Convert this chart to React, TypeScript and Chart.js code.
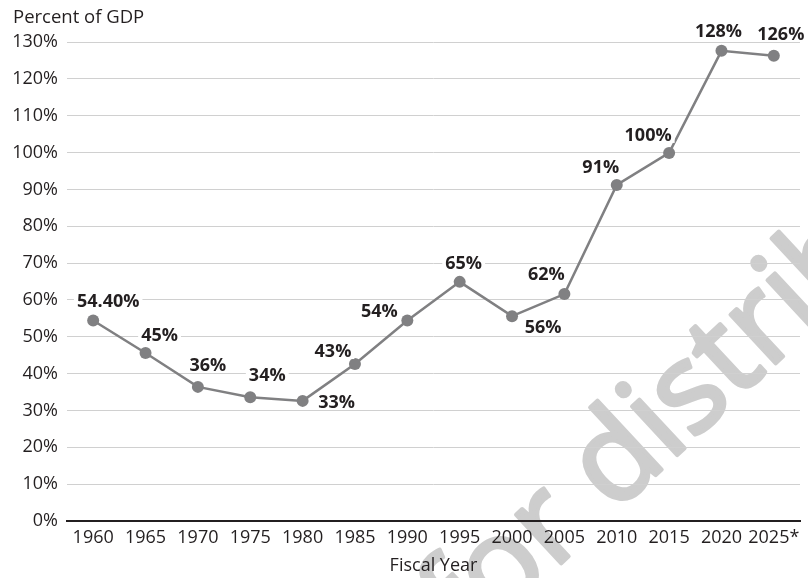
import React, { useEffect, useRef } from "react";
import { Chart, registerables } from "chart.js";

Chart.register(...registerables);

const years = ["1960", "1965", "1970", "1975", "1980", "1985", "1990", "1995", "2000", "2005", "2010", "2015", "2020", "2025*"];
const debtPct = [54.4, 45.6, 36.4, 33.6, 32.6, 42.6, 54.4, 64.9, 55.6, 61.6, 91.2, 99.9, 127.6, 126.3];
const valueLabels = ["54.40%", "45%", "36%", "34%", "33%", "43%", "54%", "65%", "56%", "62%", "91%", "100%", "128%", "126%"];
const yTicks = [0, 10, 20, 30, 40, 50, 60, 70, 80, 90, 100, 110, 120, 130];

// label offset from its point (px), layout only
const labelOffsets: [number, number][] = [
  [15, -20], [14, -18], [10, -22], [17, -22], [34, 1], [-22, -13], [-28, -10],
  [4, -19], [31, 11], [-18, -20], [-16, -18], [-21, -18], [-3, -20], [7, -22],
];

const FONT = '"Open Sans", "DejaVu Sans", sans-serif';

const watermarkPlugin = {
  id: "watermark",
  beforeDraw(chart: any) {
    const ctx = chart.ctx;
    ctx.save();
    ctx.fillStyle = "#ffffff";
    ctx.fillRect(0, 0, chart.width, chart.height);
    const ang = (-43 * Math.PI) / 180;
    ctx.font = `normal 124px ${FONT}`;
    const pre = ctx.measureText("Not for ").width;
    ctx.translate(614, 514);
    ctx.rotate(ang);
    ctx.fillStyle = "#cdcdcd";
    ctx.strokeStyle = "#cdcdcd";
    ctx.lineWidth = 4;
    ctx.lineJoin = "round";
    ctx.textBaseline = "alphabetic";
    ctx.textAlign = "left";
    ctx.fillText("Not for distribution", -pre, 0);
    ctx.strokeText("Not for distribution", -pre, 0);
    ctx.restore();
  },
};

const titlePlugin = {
  id: "yTitle",
  afterDraw(chart: any) {
    const ctx = chart.ctx;
    ctx.save();
    ctx.font = `18.5px ${FONT}`;
    ctx.fillStyle = "#231f20";
    ctx.textBaseline = "alphabetic";
    ctx.textAlign = "left";
    ctx.fillText("Percent of GDP", 13, 23);
    ctx.restore();
  },
};

const labelPlugin = {
  id: "valueLabels",
  afterDatasetsDraw(chart: any) {
    const ctx = chart.ctx;
    const meta = chart.getDatasetMeta(0);
    ctx.save();
    ctx.font = `bold 18px ${FONT}`;
    ctx.textAlign = "center";
    ctx.textBaseline = "middle";
    meta.data.forEach((pt: any, i: number) => {
      const [dx, dy] = labelOffsets[i];
      const x = pt.x + dx;
      const y = pt.y + dy;
      const t = valueLabels[i];
      const w = ctx.measureText(t).width;
      ctx.fillStyle = "#ffffff";
      ctx.fillRect(x - w / 2 - 3, y - 8, w + 6, 16);
      ctx.fillStyle = "#231f20";
      ctx.fillText(t, x, y + 1);
    });
    ctx.restore();
  },
};

export default function App() {
  const ref = useRef<HTMLCanvasElement | null>(null);
  useEffect(() => {
    if (!ref.current) return;
    const chart = new Chart(ref.current, {
      type: "line",
      data: {
        labels: years,
        datasets: [
          {
            data: debtPct,
            borderColor: "#808082",
            backgroundColor: "#808082",
            borderWidth: 2.5,
            pointRadius: 6,
            pointHoverRadius: 6,
            pointBackgroundColor: "#808082",
            pointBorderWidth: 0,
            tension: 0,
            clip: false as any,
          },
        ],
      },
      options: {
        animation: false,
        responsive: true,
        maintainAspectRatio: false,
        layout: { padding: { left: 14, right: 8, top: 42, bottom: 0 } },
        plugins: { legend: { display: false }, tooltip: { enabled: false }, title: { display: false } },
        scales: {
          x: {
            offset: true,
            grid: { display: false, drawTicks: false },
            border: { display: true, color: "#231f20", width: 2 },
            ticks: { color: "#231f20", font: { family: FONT, size: 18 }, padding: 6, maxRotation: 0, autoSkip: false },
            title: { display: true, text: "Fiscal Year", color: "#231f20", font: { family: FONT, size: 18 }, padding: { top: 0, bottom: 1 } },
            afterFit(scale: any) {
              scale.height = 57;
            },
          },
          y: {
            min: 0,
            max: 130,
            afterBuildTicks(scale: any) {
              scale.ticks = yTicks.map((v) => ({ value: v }));
            },
            grid: { color: "#d0d0d0", lineWidth: 1, drawTicks: false },
            border: { display: false },
            ticks: {
              color: "#231f20",
              font: { family: FONT, size: 18 },
              padding: 9,
              callback: (v: any) => `${v}%`,
            },
            afterFit(scale: any) {
              scale.width = 53;
            },
          },
        },
      },
      plugins: [watermarkPlugin, titlePlugin, labelPlugin],
    });
    return () => chart.destroy();
  }, []);
  return (
    <div style={{ position: "absolute", left: 0, top: 0, width: 808, height: 578 }}>
      <canvas ref={ref} />
    </div>
  );
}
